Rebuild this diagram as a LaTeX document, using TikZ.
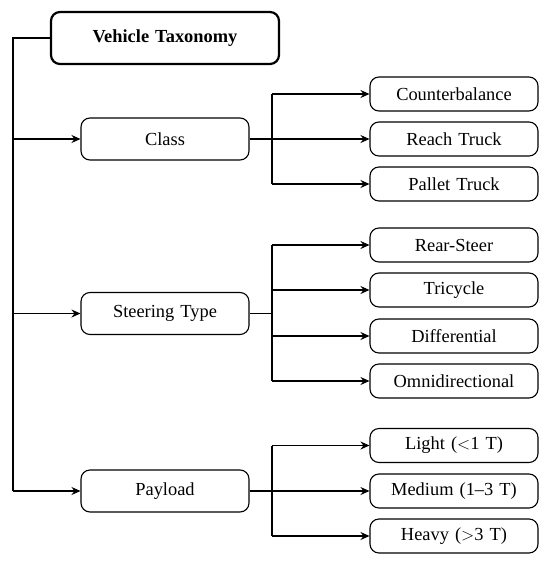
\documentclass[tikz,border=0pt]{standalone}
\usepackage{fontspec}
\setmainfont{Liberation Serif}
\usetikzlibrary{arrows.meta}
\newcommand{\wsp}{\hspace{0.33em}}
\begin{document}
\begin{tikzpicture}[x=1pt,y=-1pt,
  every node/.style={font=\fontsize{18.4}{22}\selectfont},
  rootbox/.style={draw, line width=2.2pt, rounded corners=9pt, minimum width=228pt, minimum height=52pt, inner sep=0pt, font=\fontsize{18.4}{22}\selectfont\bfseries},
  midbox/.style={draw, line width=1.1pt, rounded corners=9pt, minimum width=168pt, minimum height=42pt, inner sep=0pt},
  leafbox/.style={draw, line width=1.1pt, rounded corners=9pt, minimum width=168pt, minimum height=34pt, inner sep=0pt},
  conn/.style={line width=1.1pt},
  arr/.style={line width=1.1pt, -{Stealth[length=9pt,width=8pt,inset=3pt]}}]
\useasboundingbox (0,0) rectangle (550,565);
\node[rootbox] (root) at (165,38) {Vehicle\wsp Taxonomy};
\node[midbox] (class) at (165,139) {Class};
\node[midbox] (steer) at (165,313.5) {Steering\wsp Type};
\node[midbox] (pay) at (165,491) {Payload};
\node[leafbox] (c1) at (454,94) {Counterbalance};
\node[leafbox] (c2) at (454,139) {Reach\wsp Truck};
\node[leafbox] (c3) at (454,184) {Pallet\wsp Truck};
\node[leafbox] (s1) at (454,245) {Rear-Steer};
\node[leafbox] (s2) at (454,290) {Tricycle};
\node[leafbox] (s3) at (454,336) {Differential};
\node[leafbox] (s4) at (454,381) {Omnidirectional};
\node[leafbox] (p1) at (454,445.5) {Light\wsp ($<$1\wsp T)};
\node[leafbox] (p2) at (454,491) {Medium\wsp (1--3\wsp T)};
\node[leafbox] (p3) at (454,536) {Heavy\wsp ($>$3\wsp T)};
\coordinate (sp) at (13,38);
\coordinate (br) at (272,0);
\draw[conn] (root.west) -- (sp) -- (sp |- pay.west);
\foreach \m in {class,steer,pay}{\draw[arr] (sp |- \m.west) -- (\m.west);}
% class branch
\draw[conn] (class.east) -- (br |- class.east);
\draw[conn] (br |- c1.west) -- (br |- c3.west);
\foreach \c in {c1,c2,c3}{\draw[arr] (br |- \c.west) -- (\c.west);}
% steering branch
\draw[conn] (steer.east) -- (br |- steer.east);
\draw[conn] (br |- s1.west) -- (br |- s4.west);
\foreach \c in {s1,s2,s3,s4}{\draw[arr] (br |- \c.west) -- (\c.west);}
% payload branch
\draw[conn] (pay.east) -- (br |- pay.east);
\draw[conn] (br |- p1.west) -- (br |- p3.west);
\foreach \c in {p1,p2,p3}{\draw[arr] (br |- \c.west) -- (\c.west);}
\end{tikzpicture}
\end{document}
